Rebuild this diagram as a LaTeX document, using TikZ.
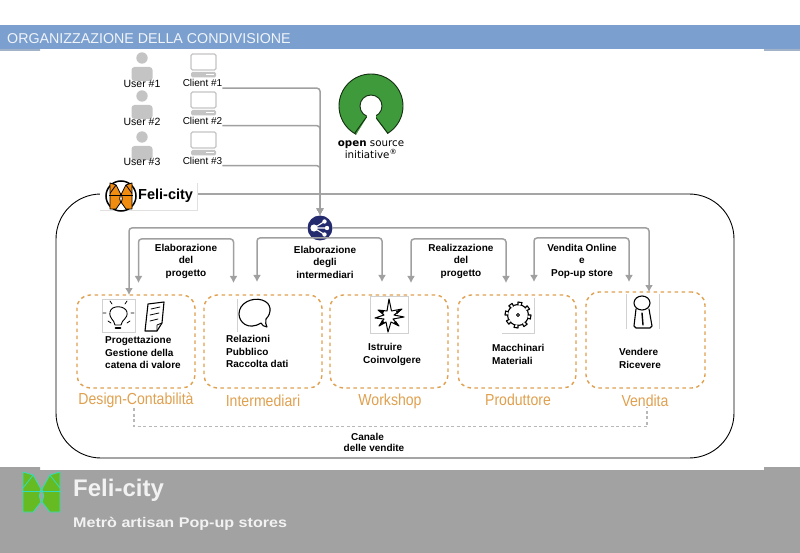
\documentclass[tikz,border=0pt]{standalone}
\usepackage{fontspec}
\setmainfont{Liberation Sans}
\newfontfamily\osifont{DejaVu Sans}
\usetikzlibrary{arrows.meta,positioning,calc}
\definecolor{headblue}{HTML}{7B9FCF}
\definecolor{footgray}{HTML}{A2A2A2}
\definecolor{linegray}{HTML}{A0A0A0}
\definecolor{icongray}{HTML}{C4C4C4}
\definecolor{groupor}{HTML}{DFA04F}
\definecolor{osigreen}{HTML}{3E9A3A}
\definecolor{sharenavy}{HTML}{232B6E}
\definecolor{wingor}{HTML}{F08C10}
\definecolor{winggreen}{HTML}{66BB22}
\definecolor{wingcyan}{HTML}{33DDBB}
\tikzset{
  txt/.style={font=\fontsize{10}{12.5}\selectfont\bfseries, align=left, inner sep=0pt},
  txtc/.style={font=\fontsize{10}{12.5}\selectfont\bfseries, align=center, inner sep=0pt},
  usertxt/.style={font=\fontsize{10.5}{12}\selectfont, inner sep=0pt, minimum height=10pt},
  clienttxt/.style={font=\fontsize{10}{12}\selectfont, inner sep=0pt, minimum height=10pt},
  groupbox/.style={draw=groupor, dash pattern=on 3.5pt off 3.5pt, line width=1.4pt, rounded corners=13pt, minimum width=118pt, minimum height=93pt, outer sep=0pt},
  grouplbl/.style={font=\fontsize{16}{18}\selectfont, text=groupor, xscale=0.88, transform shape, inner sep=0pt},
  arrow/.style={-{Latex[length=7pt,width=8pt]}, draw=linegray, line width=1.5pt, rounded corners=3pt},
  biarrow/.style={{Latex[length=7pt,width=8pt]}-{Latex[length=7pt,width=8pt]}, draw=linegray, line width=1.5pt, rounded corners=3pt},
  dashedline/.style={draw=linegray!75, dash pattern=on 3pt off 2.5pt, line width=1.1pt},
  iconbox/.style={draw=black!18, line width=0.5pt, minimum size=33pt, inner sep=0pt, outer sep=0pt},
  icon/.style={draw=black, line width=1.1pt, line join=round, line cap=round},
  pics/person/.style={code={
    \fill[icongray] (0,0) circle[radius=5.7];
    \fill[icongray, rounded corners=3pt] (-10.5,23) -- (-10.5,9) -- (10.5,9) -- (10.5,23) -- cycle;
  }},
  pics/laptop/.style={code={
    \draw[icongray, line width=1.2pt, fill=white, rounded corners=1.5pt] (0,0) rectangle (25,16);
    \fill[icongray, rounded corners=1.5pt] (0,18) rectangle (25,23.5);
    \fill[white] (15,20) rectangle (23,21.2);
  }}
}
\newcommand{\butterfly}[5]{
  \begin{scope}[shift={#1}, x=#2pt, y=-#3pt]
    \fill[#4, draw=#5, line width=0.8pt, line join=round] (-1,-1) -- (-.45,-.85) -- (-.03,-.15) -- (-.12,.2) -- (-.03,.5) -- (-.45,1) -- (-1,1) -- cycle;
    \fill[#4, draw=#5, line width=0.8pt, line join=round] (1,-1) -- (.45,-.85) -- (.03,-.15) -- (.12,.2) -- (.03,.5) -- (.45,1) -- (1,1) -- cycle;
    \draw[#5, line width=0.8pt] (-1,-.2) -- (-.45,-.85) (1,-.2) -- (.45,-.85);
    \draw[#5, line width=1pt] (-1.05,-.05) -- (1.05,-.05);
  \end{scope}
}
\begin{document}
\begin{tikzpicture}[x=1pt, y=-1pt]
  \useasboundingbox (0,0) rectangle (800,553);
  \fill[footgray] (0,467) rectangle (40,553) (40,470) rectangle (764,553) (764,467) rectangle (800,553);
  \fill[headblue!80!black!60] (0,49) rectangle (40,51) (764,49) rectangle (800,51);
  \fill[headblue] (0,25) rectangle (800,49);
  \node[anchor=west, inner sep=0pt, text=white!88!headblue, font=\fontsize{14.25}{16}\selectfont] (title) at (7,38.5) {ORGANIZZAZIONE DELLA CONDIVISIONE};

  \node[draw=black, line width=0.9pt, rounded corners=45pt, minimum width=678pt, minimum height=264pt, outer sep=0pt] (frame) at (395,326) {};
  \node[fill=white, minimum width=97pt, minimum height=27pt, inner sep=0pt, outer sep=0pt] (felibox) at (148.5,196.5) {};
  \draw[black!12, line width=0.5pt] (felibox.north east) |- (felibox.south west);
  \node[anchor=west, inner sep=0pt, font=\fontsize{14.5}{16}\selectfont\bfseries] (felitxt) at (138,196) {Feli-city};
  \draw[black, fill=white, line width=1.5pt] (121,196) circle[radius=15];
  \butterfly{(121,196)}{11}{13}{wingor}{black}

  \pic at (142,58) {person};
  \pic at (142,96) {person};
  \pic at (142,137) {person};
  \node[usertxt] (user1) at (142,84) {User \#1};
  \node[usertxt] (user2) at (142,122) {User \#2};
  \node[usertxt] (user3) at (142,162) {User \#3};
  \pic at (191,54) {laptop};
  \pic at (191,92) {laptop};
  \pic at (191,132) {laptop};
  \node[clienttxt] (client1) at (202.5,83) {Client \#1};
  \node[clienttxt] (client2) at (202.5,120.5) {Client \#2};
  \node[clienttxt] (client3) at (202.5,160.5) {Client \#3};

  \fill[osigreen, draw=black!70!osigreen, line width=0.9pt] (371,106) circle[radius=32];
  \fill[white] (366.5,118) -- (353,140) -- (392,140) -- (375.5,118) -- cycle;
  \draw[black!70!osigreen, line width=0.9pt] (366.5,117) -- (354.5,133.5) (375.5,117) -- (388,133.5);
  \draw[black!70!osigreen, fill=white, line width=0.9pt] (371,106) circle[radius=11];
  \fill[white] (366.5,115.5) rectangle (375.5,122);
  \node[inner sep=0pt, align=center, font=\osifont\fontsize{10.3}{11.5}\selectfont] (osi) at (371,149.5) {\textbf{open} source\\initiative\textsuperscript{®}};

  \node[circle, fill=sharenavy, minimum size=25pt, inner sep=0pt, outer sep=0pt] (share) at (320,228) {};
  \fill[white] (314,228) circle[radius=3.6] (324.5,221.5) circle[radius=2.2] (327,228) circle[radius=2.2] (324.5,234.5) circle[radius=2.2];
  \draw[white, line width=1.1pt] (324.5,221.5) -- (314,228) -- (327,228) (314,228) -- (324.5,234.5);

  \node[groupbox] (design) at (136,341.5) {};
  \node[groupbox, right=9pt of design] (intermed) {};
  \node[groupbox, right=8pt of intermed] (workshop) {};
  \node[groupbox, right=10pt of workshop] (produt) {};
  \node[groupbox, right=10pt of produt, minimum width=119pt, minimum height=96pt, yshift=1.5pt] (vendita) {};

  \node[grouplbl] (lbldesign) at (136,400.5) {Design-Contabilità};
  \node[grouplbl] (lblinter) at (263,400.5) {Intermediari};
  \node[grouplbl] (lblwork) at (390,401) {Workshop};
  \node[grouplbl] (lblprod) at (518,400) {Produttore};
  \node[grouplbl] (lblvend) at (645,400.5) {Vendita};

  \draw[arrow] (client1.south east) -| (share.north);
  \draw[arrow] (client2.south east) -| (share.north);
  \draw[arrow] (client3.south east) -| (share.north);
  \draw[arrow] (share.west) -| ([xshift=-7pt]design.north);
  \draw[arrow] (share.east) -| ([xshift=3.5pt]vendita.north);

  \coordinate (prog1) at (138.5,283);
  \coordinate (prog2) at (233.5,283);
  \coordinate (inter1) at (257,282);
  \coordinate (inter2) at (382,282);
  \coordinate (real1) at (411,283);
  \coordinate (real2) at (506,283);
  \coordinate (vend1) at (534,282);
  \coordinate (vend2) at (629,282);
  \draw[biarrow] (prog1) -- ++(0,-44) -| (prog2);
  \draw[biarrow] (inter1) -- ++(0,-44) -| (inter2);
  \draw[biarrow] (real1) -- ++(0,-44) -| (real2);
  \draw[biarrow] (vend1) -- ++(0,-44) -| (vend2);

  \node[txtc] (tprog) at (186,261) {Elaborazione\\del\\progetto};
  \node[txtc] (tinter) at (325,262) {Elaborazione\\degli\\intermediari};
  \node[txtc] (treal) at (461,261) {Realizzazione\\del\\progetto};
  \node[txtc] (tvend) at (582,261) {Vendita Online\\e\\Pop-up store};

  \node[iconbox, anchor=north west] (bulbbox) at (102,299) {};
  \draw[icon, line width=0.9pt] (115,325) .. controls (114,319) and (109,319) .. (110,312) .. controls (111,305) and (125,305) .. (127,312) .. controls (128,319) and (122,319) .. (121,325) -- cycle;
  \draw[icon, line width=1.6pt] (115.5,328) -- (120.5,328);
  \draw[icon, line width=0.8pt] (103,313) -- (106,313) (131,313) -- (134,313) (110,301) -- (112,304) (127,301) -- (125,304) (108,321) -- (111,323) (130,321) -- (127,323);
  \draw[icon] (148,304) -- (164,302) -- (162,323) -- (157,331) -- (145,331) -- cycle;
  \draw[icon, line width=0.8pt] (151,309) -- (160,307) (150,315) -- (159,313) (150,321) -- (158,319) (157,331) -- (157,325) -- (162,323);
  \node[txt, anchor=west] (tdesign) at (105,352.5) {Progettazione\\Gestione della\\catena di valore};

  \draw[black!18, line width=0.5pt] (237,332) -- (237,299);
  \draw[icon] (267,327) .. controls (264,327) and (262,325) .. (261,323) .. controls (248,331) and (239,322) .. (239,314) .. controls (239,303) and (252,297) .. (262,300) .. controls (272,303) and (272,313) .. (266,319) .. controls (265,322) and (266,325) .. (267,327) -- cycle;
  \node[txt, anchor=west] (tinter2) at (226,351.5) {Relazioni\\Pubblico\\Raccolta dati};

  \node[iconbox, minimum width=38pt, minimum height=37pt] (starbox) at (389,314.5) {};
  \draw[icon, line width=1pt] (389,299) -- (391.5,311) -- (402,309) -- (394,315) -- (404,317) -- (393,319) -- (399,326) -- (391,322) -- (388,332) -- (386,322) -- (379,326) -- (384,319) -- (375,318) -- (384,315) -- (378,310) -- (387,311) -- cycle;
  \fill[black] (402,309) -- (396,311) -- (397,314) -- cycle (378,310) -- (384,311) -- (383,314) -- cycle (399,326) -- (396,321) -- (393.5,323) -- cycle (379,326) -- (382,320) -- (385,323) -- cycle;
  \node[txt, anchor=west] (tistr) at (368,347) {Istruire};
  \node[txt, anchor=west] (tcoin) at (363,361) {Coinvolgere};

  \draw[black!18, line width=0.5pt] (502,333) -- (534,333) -- (534,298);
  \draw[icon] (518,315) circle[radius=10.5];
  \foreach \a in {0,45,...,315}
    \draw[icon, fill=white] ([shift={(518,315)}]\a:10) -- ([shift={(518,315)}]\a:13) -- ([shift={(518,315)}]\a+18:13) -- ([shift={(518,315)}]\a+18:10);
  \draw[icon, line width=0.8pt] (518,315) circle[radius=1.5];
  \node[txt, anchor=west] (tprod) at (492,354.5) {Macchinari\\Materiali};

  \draw[black!18, line width=0.5pt] (626,294) -- (626,329) (659,294) -- (659,329);
  \draw[icon] (636,309) -- (634,326) -- (636,328) -- (650,328) -- (652,326) -- (649,309);
  \draw[icon, fill=white] (642,303) ellipse[x radius=8, y radius=7];
  \draw[icon, line width=1.4pt] (642,313) -- (643,325);
  \node[txt, anchor=west] (tvendi) at (619,358.5) {Vendere\\Ricevere};

  \draw[dashedline] ([xshift=-2pt]lbldesign.south) -- ++(0,18.5) -| ([xshift=2pt]lblvend.south);
  \node[txt] (canale) at (367.5,437) {Canale};
  \node[txt] (canale2) at (374,447.5) {delle vendite};

  \butterfly{(41.5,492)}{18.5}{20}{winggreen}{wingcyan}
  \node[anchor=west, inner sep=0pt, text=white!95!black, font=\fontsize{24}{26}\selectfont\bfseries] (foot) at (73,490.5) {Feli-city};
  \node[anchor=west, inner sep=0pt, text=white!95!black, font=\fontsize{14}{16}\selectfont\bfseries, xscale=1.15, transform shape] (footsub) at (73,523.5) {Metrò artisan Pop-up stores};
\end{tikzpicture}
\end{document}
